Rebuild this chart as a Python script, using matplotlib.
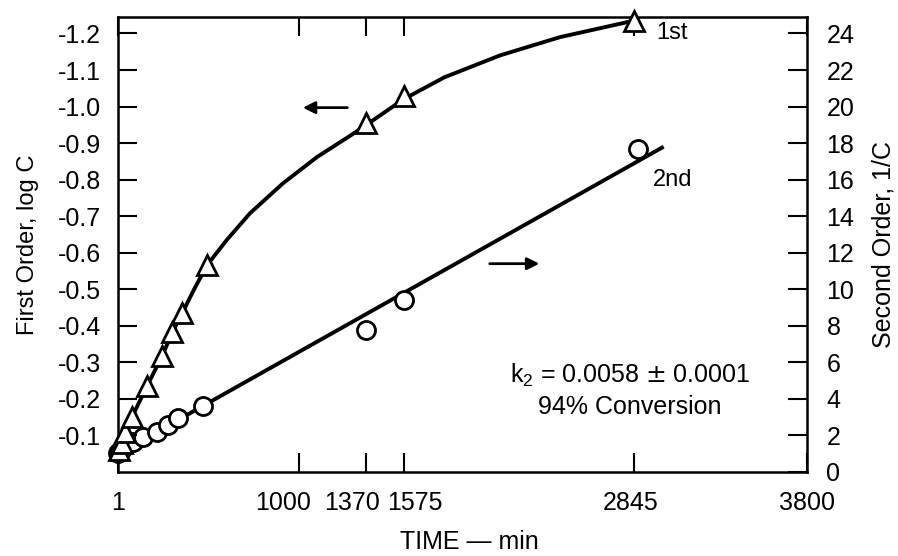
# coding=utf-8
import matplotlib
matplotlib.use("Agg")
import matplotlib.pyplot as plt
import matplotlib.transforms as mtransforms

plt.rcParams['font.family'] = ['Liberation Sans', 'DejaVu Sans']

# first order data, log C (left axis)
t_first = [5, 20, 40, 77, 160, 243, 298, 353, 491, 1370, 1575, 2845]
logc_first = [-0.06, -0.08, -0.11, -0.15, -0.235, -0.317, -0.383, -0.434, -0.566, -0.954, -1.03, -1.235]

# smooth curve through first order points
curve_t = [0, 77, 160, 243, 298, 353, 420, 491, 600, 728, 910, 1098, 1280, 1370, 1575, 1800, 2107, 2438, 2845]
curve_v = [-0.06, -0.15, -0.235, -0.317, -0.38, -0.434, -0.50, -0.566, -0.635, -0.708, -0.79, -0.862,
           -0.92, -0.95, -1.02, -1.08, -1.14, -1.19, -1.235]

# second order data, 1/C (right axis)
t_second = [2, 10, 20, 35, 83, 138, 215, 276, 331, 469, 1370, 1575, 2868]
invc_second = [1.05, 1.15, 1.25, 1.4, 1.64, 1.91, 2.19, 2.57, 2.95, 3.6, 7.76, 9.4, 17.7]

# straight fit line for second order
line_t = [0, 3000]
line_v = [1.0, 17.75]

x_ticks = [1, 1000, 1370, 1575, 2845, 3800]
x_labels = ["1", "1000", "1370", "1575", "2845", "3800"]
left_ticks = [-0.1, -0.2, -0.3, -0.4, -0.5, -0.6, -0.7, -0.8, -0.9, -1.0, -1.1, -1.2]
left_labels = ["-0.1", "-0.2", "-0.3", "-0.4", "-0.5", "-0.6", "-0.7", "-0.8", "-0.9", "-1.0", "-1.1", "-1.2"]
right_ticks = [0, 2, 4, 6, 8, 10, 12, 14, 16, 18, 20, 22, 24]

fig = plt.figure(figsize=(8.98, 5.56), dpi=100)
ax = fig.add_axes([0.1314, 0.1511, 0.7673, 0.8183])
ax2 = ax.twinx()
ax.set_zorder(ax2.get_zorder() + 1)
ax.patch.set_visible(False)

ax.plot(curve_t, curve_v, color="black", linewidth=2.8, zorder=3)
ax.plot(t_first, logc_first, linestyle="none", marker="^", markersize=15, markerfacecolor="white",
        markeredgecolor="black", markeredgewidth=2.0, clip_on=False, zorder=5)

ax2.plot(line_t, line_v, color="black", linewidth=2.8, zorder=3)
ax2.plot(t_second, invc_second, linestyle="none", marker="o", markersize=13, markerfacecolor="white",
         markeredgecolor="black", markeredgewidth=2.0, clip_on=False, zorder=5)

ax.set_xlim(0, 3800)
ax.set_ylim(0, -1.245)
ax2.set_ylim(0, 24.9)

ax.set_xticks(x_ticks, x_labels)
ax.set_yticks(left_ticks, left_labels)
ax2.set_yticks(right_ticks)

for s in ax.spines.values():
    s.set_linewidth(1.8)
for s in ax2.spines.values():
    s.set_visible(False)

ax.tick_params(axis="x", direction="in", length=14, width=1.5, top=True, bottom=True,
               labelsize=18, pad=14)
ax.tick_params(axis="y", direction="in", length=14, width=1.5, right=False, labelsize=18, pad=12)
ax2.tick_params(axis="y", direction="in", length=14, width=1.5, labelsize=18, pad=14)

# crowded time labels are pushed apart a little, as in the original
shift_px = [0, -16, -14, 11, -3, 0]
for lab, dx in zip(ax.get_xticklabels(), shift_px):
    lab.set_transform(lab.get_transform() + mtransforms.ScaledTranslation(dx / 100, 0, fig.dpi_scale_trans))

ax.set_xlabel("TIME \u2014 min", fontsize=18)
ax.xaxis.set_label_coords(0.51, -0.128)
ax.set_ylabel("First Order, log C", fontsize=17)
ax.yaxis.set_label_coords(-0.115, 0.5)
ax2.set_ylabel("Second Order, 1/C", fontsize=18, rotation=90)
ax2.yaxis.set_label_coords(1.093, 0.5)

# labels and arrows
ax.text(3056, -1.2, "1st", fontsize=17, ha="center", va="center")
ax2.text(3061, 16.0, "2nd", fontsize=17, ha="center", va="center")
ax.annotate("", xy=(1004, -0.997), xytext=(1280, -0.997),
            arrowprops=dict(arrowstyle="-|>", color="black", lw=2, mutation_scale=18))
ax2.annotate("", xy=(2339, 11.4), xytext=(2035, 11.4),
             arrowprops=dict(arrowstyle="-|>", color="black", lw=2, mutation_scale=18))
ax2.text(2824, 5.3, r"k$_{\mathregular{2}}$ = 0.0058 $\pm$ 0.0001", fontsize=18, ha="center", va="center")
ax2.text(2824, 3.55, "94% Conversion", fontsize=18, ha="center", va="center")

plt.savefig("out.png", dpi=100)
